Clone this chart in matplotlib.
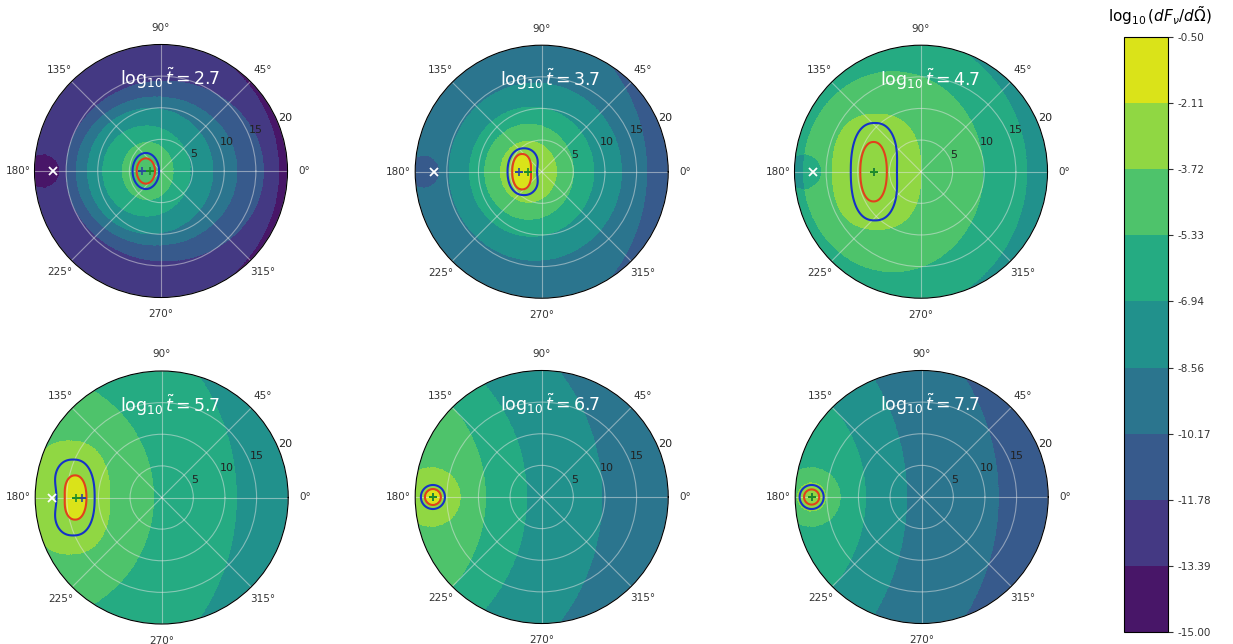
import numpy as np
import matplotlib
matplotlib.use("Agg")
import matplotlib.pyplot as plt

# ---- data ----
log_t = [2.7, 3.7, 4.7, 5.7, 6.7, 7.7]
levels = np.linspace(-15.0, -0.5, 10)

# band (0..8) at the brightest spot of each panel
peak_band = [6, 8, 7, 8, 8, 7]

# nested band borders, inner -> outer:
# (x centre, x half axis, y half axis, shape exponent), in r units
borders = [
    [(-2.1, 4.0, 4.5, 2), (-2.3, 6.9, 7.1, 2), (-1.7, 9.9, 9.9, 2), (-0.7, 12.7, 11.7, 2),
     (0.6, 15.6, 14.2, 2), (-3.1, 21.7, 21.7, 2)],
    [(-3.0, 1.6, 2.6, 2), (-2.1, 4.4, 4.8, 2), (-2.0, 7.0, 7.5, 2), (-1.6, 9.8, 10.2, 2),
     (-1.0, 13.6, 14.0, 2), (-10.5, 27.1, 27.1, 2)],
    [(-7.0, 7.0, 9.1, 2.4), (-4.4, 14.2, 15.8, 2), (-6.1, 22.8, 22.8, 2)],
    [(-13.6, 1.7, 3.3, 2.3), (-14.5, 6.3, 8.9, 2.4), (-20.9, 19.6, 19.6, 2),
     (-22.1, 33.9, 33.9, 2)],
    [(-17.2, 1.0, 1.0, 2), (-17.5, 4.6, 4.6, 2), (-30.6, 21.7, 21.7, 2),
     (-29.4, 27.0, 27.0, 2), (-23.1, 32.6, 32.6, 2)],
    [(-17.4, 2.2, 2.2, 2), (-17.5, 4.6, 4.6, 2), (-30.6, 21.7, 21.7, 2),
     (-38.5, 36.1, 36.1, 2), (-23.8, 35.9, 35.9, 2)],
]

# one band darker inside this disc near 180 deg: (x centre, radius)
dips = [(-18.7, 2.7), (-18.7, 2.6), (-18.5, 2.8), None, None, None]

# outer (blue) and inner (red) closed curves:
# (x centre, x half axis, y half axis, dent, shape exponent)
blue_curve = [(-2.4, 2.1, 2.85, 0.0, 2), (-2.8, 2.6, 3.7, 0.22, 2.2),
              (-7.3, 3.8, 7.7, 0.08, 2.4), (-14.0, 3.4, 6.0, -0.25, 2.4),
              (-17.2, 1.9, 1.9, 0.0, 2), (-17.4, 1.9, 1.9, 0.0, 2)]
red_curve = [(-2.4, 1.45, 2.0, 0.0, 2), (-3.1, 1.56, 2.8, 0.1, 2.2),
             (-7.5, 2.1, 4.7, 0.0, 2.2), (-13.7, 1.8, 3.5, -0.1, 2.2),
             (-17.2, 1.26, 1.26, 0.0, 2), (-17.4, 1.2, 1.2, 0.0, 2)]

plus_green_x = [-1.7, -2.2, -7.4, -13.5, -17.2, -17.4]
plus_dark_x = [-3.0, -3.6, -7.4, -12.6, -17.2, -17.4]
cross_x = [-17.1, -17.1, -17.0, -17.4, None, None]

# panel centres in pixels and radius
centres = [(161, 171), (541.7, 171.7), (921, 171.7),
           (161.7, 497.5), (541.7, 497), (921.7, 497)]
R_PX = 126.5
W, H = 1233, 644
RMAX = 20


def super_rho(x, y, cx, rx, ry, p):
    return (np.abs((x - cx) / rx) ** p + np.abs(y / ry) ** p) ** (1.0 / p)


def band_values(x, y, peak, bounds, dip):
    band = np.full(x.shape, float(peak))
    for cx, rx, ry, p in bounds:
        band -= super_rho(x, y, cx, rx, ry, p) > 1
    if dip is not None:
        band -= ((x - dip[0]) ** 2 + y ** 2) < dip[1] ** 2
    step = levels[1] - levels[0]
    return levels[0] + (band + 0.5) * step


def curve_field(x, y, cx, rx, ry, dent, p):
    rho = super_rho(x, y, cx, rx, ry, p)
    if dent != 0:
        xd = cx + np.sign(dent) * rx
        rho = rho + abs(dent) * np.exp(-((x - xd) / (0.7 * rx)) ** 2 - (y / (0.45 * ry)) ** 2)
    return rho


fig = plt.figure(figsize=(W / 100, H / 100), dpi=100)

theta = np.linspace(0, 2 * np.pi, 900)
rad = np.linspace(0, RMAX, 400)
T, Rg = np.meshgrid(theta, rad)
X = Rg * np.cos(T)
Y = Rg * np.sin(T)

cs = None
for i in range(6):
    cxp, cyp = centres[i]
    ax = fig.add_axes([(cxp - R_PX) / W, (H - cyp - R_PX) / H, 2 * R_PX / W, 2 * R_PX / H],
                      projection="polar")
    Z = band_values(X, Y, peak_band[i], borders[i], dips[i])
    cs = ax.contourf(T, Rg, Z, levels=levels, cmap="viridis")

    ax.contour(T, Rg, curve_field(X, Y, *blue_curve[i]), levels=[1.0],
               colors="#1532c8", linewidths=1.5)
    ax.contour(T, Rg, curve_field(X, Y, *red_curve[i]), levels=[1.0],
               colors="#e2401c", linewidths=1.5)

    ax.plot(np.pi, abs(plus_dark_x[i]), "+", color="#2a4a9a", ms=6, mew=1.2)
    ax.plot(np.pi, abs(plus_green_x[i]), "+", color="#1e8c2a", ms=6, mew=1.2)
    if cross_x[i] is not None:
        ax.plot(np.pi, abs(cross_x[i]), "x", color="white", ms=6, mew=1.3)

    ax.set_ylim(0, RMAX)
    ax.set_yticks([5, 10, 15, 20])
    ax.set_rlabel_position(22.5)
    ax.tick_params(axis="y", labelsize=8, colors="#222222")
    ax.tick_params(axis="x", labelsize=7.5, colors="#333333", pad=1.5)
    ax.grid(color="#e6e6e6", alpha=0.5, linewidth=0.8)
    ax.spines["polar"].set_linewidth(0.8)
    ax.text(0.535, 0.865, r"$\log_{10}\tilde{t} = %.1f$" % log_t[i], transform=ax.transAxes,
            ha="center", va="center", color="white", fontsize=12.5)

cax = fig.add_axes([1124 / W, (H - 632) / H, 44 / W, 595 / H])
cb = fig.colorbar(cs, cax=cax, ticks=levels, format="%.2f")
cb.ax.tick_params(labelsize=7.5, colors="#333333")
fig.text(1160 / W, 1 - 16 / H, r"$\log_{10}(dF_\nu/d\tilde{\Omega})$", ha="center",
         va="center", fontsize=11)

fig.savefig("out.png", dpi=100)
